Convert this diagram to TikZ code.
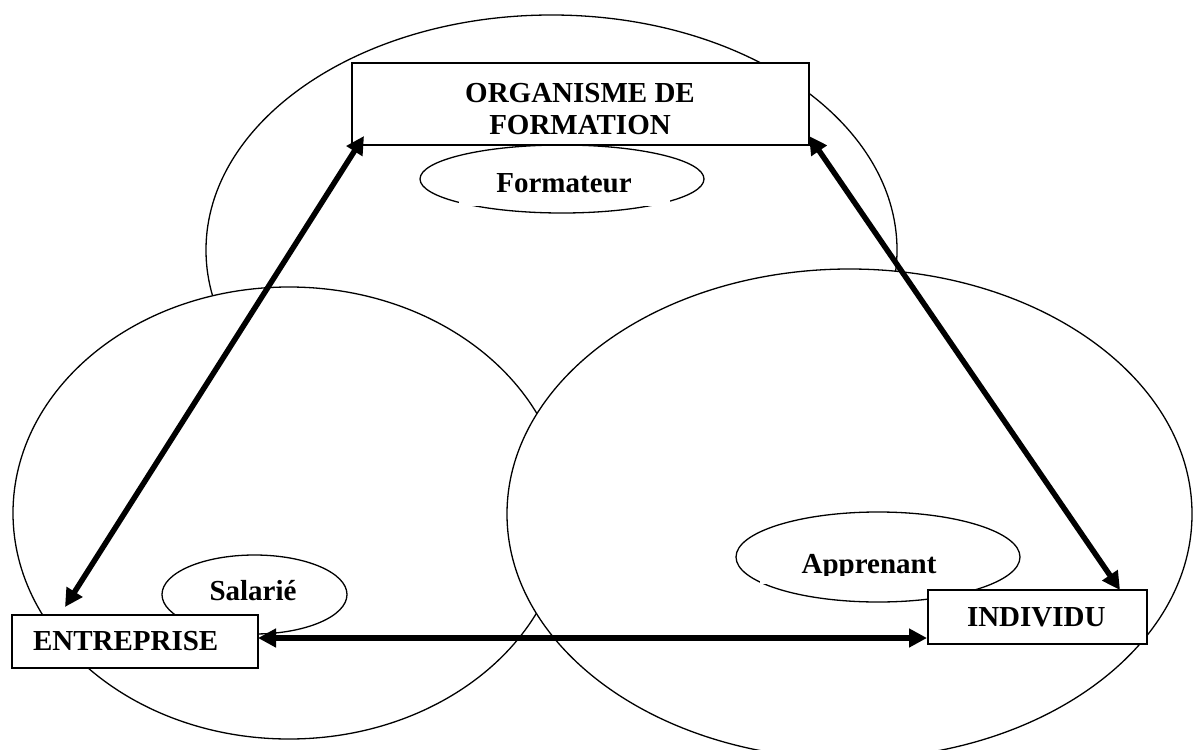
\documentclass[tikz,border=0pt]{standalone}
\usepackage{fontspec}
\setmainfont{Liberation Serif}
\usetikzlibrary{arrows.meta,calc,shapes.geometric}
\begin{document}
\begin{tikzpicture}[x=0.5pt,y=-0.5pt,
  zone/.style={ellipse,draw,fill=white,line width=0.65pt,inner sep=0pt,outer sep=0pt},
  actor/.style={draw,fill=white,line width=0.85pt,inner ysep=0pt,outer sep=0pt,
    font=\fontsize{14.5pt}{16pt}\selectfont\bfseries},
  lbl/.style={font=\fontsize{14.5pt}{16pt}\selectfont\bfseries,inner sep=0pt,outer sep=0pt},
  link/.style={line width=2.75pt,
    {Triangle[length=9pt,width=9pt]}-{Triangle[length=9pt,width=9pt]}}]

\useasboundingbox (0,0) rectangle (1193,749);
\clip (0,0) rectangle (1193,749);

% three overlapping spheres
\node[zone,minimum width=345.5pt,minimum height=235pt] (orgzone) at (551.5,250) {};
\node[zone,minimum width=276pt,minimum height=226pt] (entzone) at (289,513) {};
\node[zone,minimum width=342.5pt,minimum height=245pt] (indzone) at (849.5,514) {};

% training body and its trainer
\node[zone,minimum width=142pt,minimum height=34pt] (formell) at (562,179) {};
\node[lbl,fill=white,minimum width=105.5pt,minimum height=22pt] (formtxt) at (564,183.5) {Formateur};
\node[actor,minimum width=228.5pt,minimum height=41pt] (org) at (580.5,104) {};
\node[lbl,align=center] (orgtxt) at (580,109.3) {ORGANISME DE\\FORMATION};

% company and employee
\node[zone,minimum width=92.5pt,minimum height=39.5pt] (salell) at (254.5,594.5) {};
\node[lbl,anchor=base] (saltxt) at (253,600) {Salarié};
\node[actor,minimum width=123pt,minimum height=26.5pt,inner xsep=10.5pt,
  text width=102pt,align=left] (ent) at (135,641.5) {ENTREPRISE};

% individual and learner
\node[zone,minimum width=142pt,minimum height=45pt] (appell) at (878,557) {};
\node[fill=white,inner sep=0pt,minimum width=109pt,minimum height=19.5pt] (appbox) at (869,564.5) {};
\begin{scope}
  \clip (760,540) rectangle (978,575);
  \node[lbl,anchor=base] (apptxt) at (869,573) {Apprenant};
\end{scope}
\node[actor,minimum width=109.5pt,minimum height=27pt,inner xsep=19.5pt,
  text width=70.5pt,align=left] (ind) at (1037.5,617) {INDIVIDU};

% relations
\draw[link] ($(ent.north west)+(53,-8)$) -- ($(org.south west)+(12,-9)$);
\draw[link] ($(org.south east)+(0,-9)$) -- ($(ind.north east)+(-27,0)$);
\draw[link] ($(ent.east)+(0,-3.5)$) -- ($(ind.south west)+(-1,-6)$);
\end{tikzpicture}
\end{document}
